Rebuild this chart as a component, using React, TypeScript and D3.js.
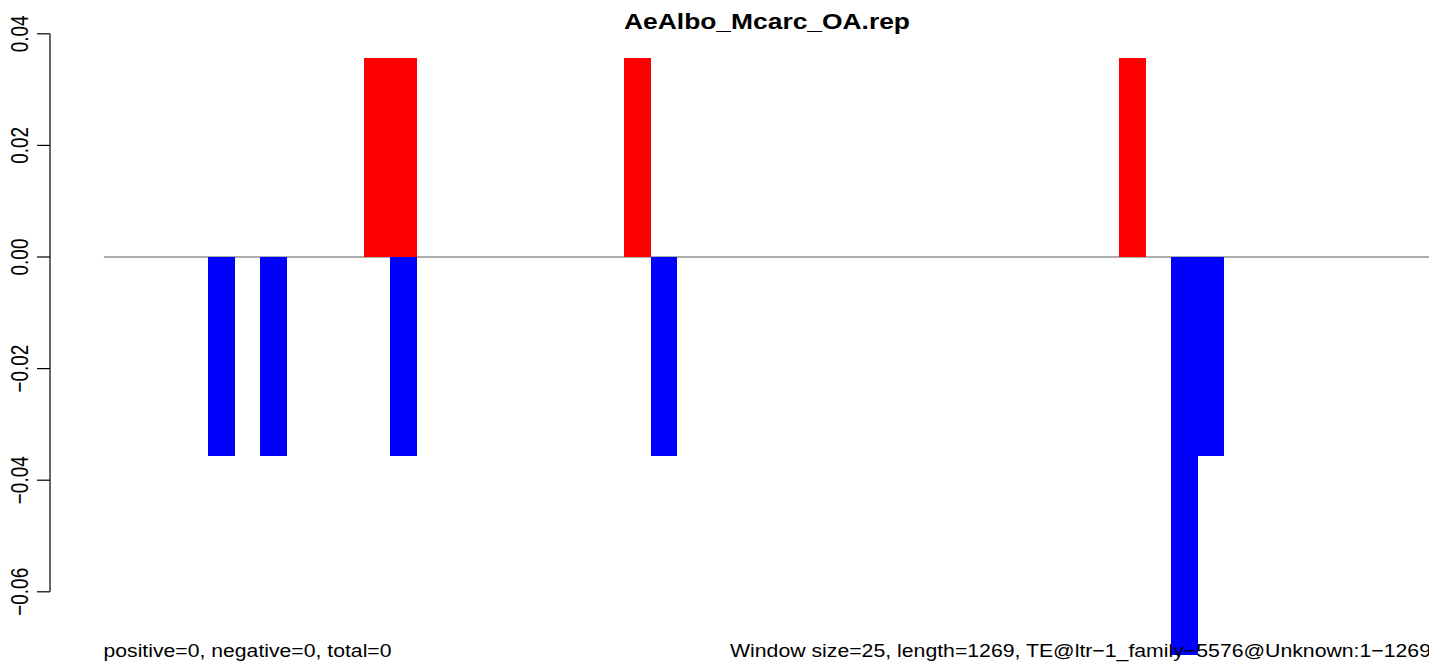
import React from "react";
import * as d3 from "d3";

const windowIndex: number[] = [
  0, 1, 2, 3, 4, 5, 6, 7, 8, 9, 10, 11, 12, 13, 14, 15, 16, 17, 18, 19, 20, 21, 22, 23, 24, 25,
  26, 27, 28, 29, 30, 31, 32, 33, 34, 35, 36, 37, 38, 39, 40, 41, 42, 43, 44, 45, 46, 47, 48, 49, 50,
];

const positiveValues: number[] = [
  0, 0, 0, 0, 0, 0, 0, 0, 0, 0, 0.0357, 0.0357, 0, 0, 0, 0, 0, 0, 0, 0, 0.0357, 0, 0, 0, 0, 0,
  0, 0, 0, 0, 0, 0, 0, 0, 0, 0, 0, 0, 0, 0.0357, 0, 0, 0, 0, 0, 0, 0, 0, 0, 0, 0,
];

const negativeValues: number[] = [
  0, 0, 0, 0, -0.0357, 0, -0.0357, 0, 0, 0, 0, -0.0357, 0, 0, 0, 0, 0, 0, 0, 0, 0, -0.0357, 0, 0, 0, 0,
  0, 0, 0, 0, 0, 0, 0, 0, 0, 0, 0, 0, 0, 0, 0, -0.0714, -0.0357, 0, 0, 0, 0, 0, 0, 0, 0,
];

const yTickValues: number[] = [-0.06, -0.04, -0.02, 0.0, 0.02, 0.04];

const titleText = "AeAlbo_Mcarc_OA.rep";
const leftNote = "positive=0, negative=0, total=0";
const rightNote = "Window size=25, length=1269, TE@ltr\u22121_family\u22125576@Unknown:1\u22121269";

const W = 1429;
const H = 662;
const FONT = "'Liberation Sans', Arial, sans-serif";

export default function App() {
  const plotLeft = 103.9;
  const plotRight = 1431.4;
  const x = d3
    .scaleBand<number>()
    .domain(windowIndex)
    .range([plotLeft, plotRight])
    .paddingInner(0)
    .paddingOuter(0);
  const y = d3.scaleLinear().domain([-0.06, 0.04]).range([591.8, 33.8]);
  const fmt = d3.format(".2f");
  const bw = x.bandwidth();

  return (
    <svg
      width={W}
      height={H}
      style={{ position: "fixed", left: 0, top: 0, background: "#fff" }}
      fontFamily={FONT}
    >
      <rect x={0} y={0} width={W} height={H} fill="#fff" />
      {/* zero line */}
      <line x1={plotLeft} x2={W} y1={y(0)} y2={y(0)} stroke="#5a5a5a" strokeWidth={1} />
      <g shapeRendering="crispEdges">
        {/* positive bars */}
        {windowIndex.map((i) =>
          positiveValues[i] > 0 ? (
            <rect
              key={"p" + i}
              x={x(i)!}
              width={bw + 0.5}
              y={y(positiveValues[i])}
              height={y(0) - y(positiveValues[i])}
              fill="#ff0000"
            />
          ) : null
        )}
        {/* negative bars */}
        {windowIndex.map((i) =>
          negativeValues[i] < 0 ? (
            <rect
              key={"n" + i}
              x={x(i)!}
              width={bw + 0.5}
              y={y(0)}
              height={y(negativeValues[i]) - y(0)}
              fill="#0000ff"
            />
          ) : null
        )}
      </g>
      {/* y axis */}
      <line x1={50} x2={50} y1={y(0.04)} y2={y(-0.06)} stroke="#000" strokeWidth={1.2} />
      {yTickValues.map((t) => (
        <g key={"t" + t}>
          <line x1={37} x2={50} y1={y(t)} y2={y(t)} stroke="#000" strokeWidth={1.2} />
          <text
            transform={`translate(28,${y(t)}) scale(1.3,1) rotate(-90)`}
            textAnchor="middle"
            fontSize={19}
            fill="#000"
          >
            {fmt(t)}
          </text>
        </g>
      ))}
      {/* title */}
      <text
        x={624}
        y={29}
        fontSize={22}
        fontWeight="bold"
        textLength={286}
        lengthAdjust="spacingAndGlyphs"
        fill="#000"
      >
        {titleText}
      </text>
      {/* bottom notes */}
      <text
        x={103.5}
        y={656.5}
        fontSize={18.7}
        textLength={288}
        lengthAdjust="spacingAndGlyphs"
        fill="#000"
      >
        {leftNote}
      </text>
      <text
        x={730}
        y={656.5}
        fontSize={18.7}
        textLength={701}
        lengthAdjust="spacingAndGlyphs"
        fill="#000"
      >
        {rightNote}
      </text>
    </svg>
  );
}
